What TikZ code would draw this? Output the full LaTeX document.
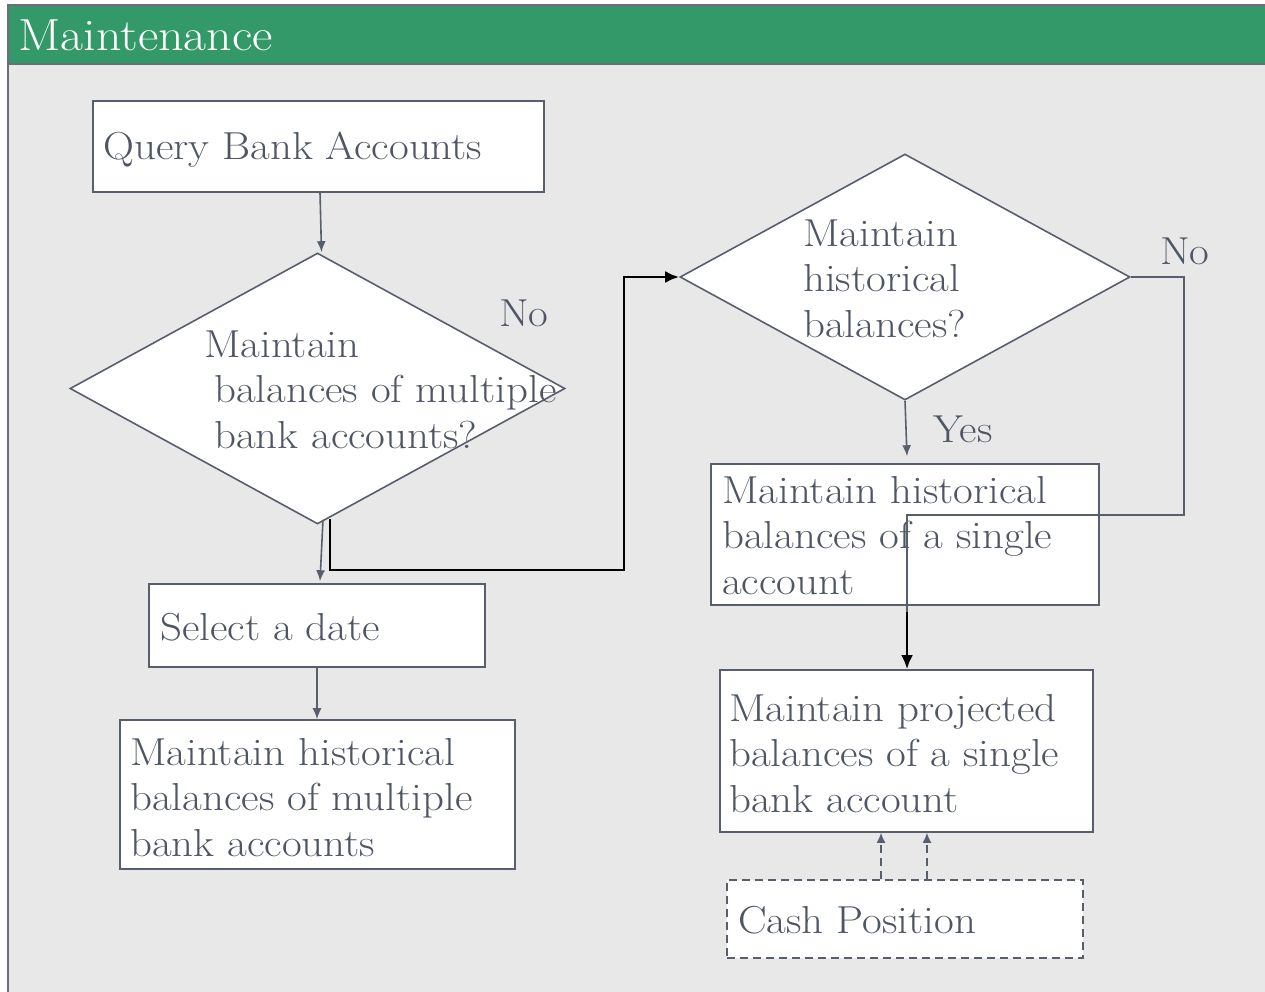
\documentclass[tikz,border=0pt]{standalone}
\usetikzlibrary{arrows.meta,shapes.geometric}
\definecolor{linec}{RGB}{88,95,108}
\definecolor{textc}{RGB}{78,86,100}
\definecolor{panelc}{RGB}{232,232,232}
\definecolor{headc}{RGB}{51,153,104}
\definecolor{bordc}{RGB}{105,110,120}
\begin{document}
\begin{tikzpicture}[x=1pt,y=-1pt,
  box/.style={draw=linec, fill=white, line width=1.6pt, inner sep=0pt, rectangle},
  dia/.style={draw=linec, fill=white, line width=1.6pt, inner sep=0pt, diamond},
  txt/.style={anchor=base west, inner sep=0pt, align=left, text=textc, xscale=1.1, transform shape, font=\fontsize{39}{45.5}\selectfont},
  garrow/.style={draw=linec, line width=1.6pt, -{Latex[length=11pt,width=9pt]}},
  gline/.style={draw=linec, line width=1.6pt},
  barrow/.style={draw=black, line width=2.8pt, -{Latex[length=14pt,width=12pt]}},
  darrow/.style={draw=linec, line width=1.6pt, dash pattern=on 8pt off 5pt, -{Latex[length=10pt,width=9pt]}}]
\useasboundingbox (0,0) rectangle (1265,992);
\clip (0,0) rectangle (1265,992);
% panel
\fill[white] (0,0) rectangle (1265,992);
\fill[panelc] (8,5) rectangle (1280,1000);
\fill[headc] (8,5) rectangle (1280,64);
\draw[bordc, line width=2pt] (1280,5) -- (8,5) -- (8,1000);
\draw[bordc, line width=2pt] (8,64) -- (1280,64);
\node[anchor=base west, inner sep=0pt, text=white, xscale=1.11, transform shape, font=\fontsize{45}{52}\selectfont] (title) at (18,51) {Maintenance};
% shapes
\node[box, minimum width=451pt, minimum height=91pt] (q) at (318.5,146.5) {};
\node[dia, minimum width=495pt, minimum height=271pt] (d1) at (317.5,388.5) {};
\node[box, minimum width=336pt, minimum height=83pt] (sel) at (317,625.5) {};
\node[box, minimum width=395pt, minimum height=149pt] (mhm) at (317.5,794.5) {};
\node[dia, minimum width=450pt, minimum height=246pt] (d2) at (905,277) {};
\node[box, minimum width=388pt, minimum height=141pt] (ms) at (905,534.5) {};
\node[box, minimum width=373pt, minimum height=162pt] (mp) at (906.5,751) {};
\node[box, dash pattern=on 8pt off 5pt, minimum width=356pt, minimum height=78pt] (cp) at (905,919) {};
% texts (anchor at baseline of the last line)
\node[txt] (qt) at (103,160) {Query Bank Accounts};
\node[txt] (d1t) at (204,448) {Maintain\\\hspace*{9pt}balances of multiple\\\hspace*{9pt}bank accounts?};
\node[txt] (selt) at (160,640) {Select a date};
\node[txt] (mhmt) at (130,856) {Maintain historical\\balances of multiple\\bank accounts};
\node[txt] (d2t) at (803,337) {Maintain\\historical\\balances?};
\node[txt] (mst) at (722,594) {Maintain historical\\balances of a single\\account};
\node[txt] (mpt) at (729,812) {Maintain projected\\balances of a single\\bank account};
\node[txt] (cpt) at (738,933) {Cash Position};
\node[txt] (no1) at (499,326) {No};
\node[txt] (no2) at (1160,264) {No};
\node[txt] (yes) at (933,442) {Yes};
% connectors
\draw[garrow] ([xshift=1.5pt]q.south) -- ([xshift=4pt]d1.north);
\draw[garrow] ([xshift=5.5pt,yshift=5pt]d1.south) -- ([xshift=3pt,yshift=2pt]sel.north);
\draw[garrow] (sel.south) -- (sel.south |- mhm.north);
\draw[barrow] ([xshift=12.5pt,yshift=6pt]d1.south) |- (624,570) |- (d2.west);
\draw[garrow] (d2.south) -- ([xshift=2pt,yshift=7pt]ms.north);
\coordinate (j) at (907,612);
\draw[gline] (d2.east) -| (1184,515) -| (j);
\draw[barrow] (j) -- (j |- mp.north);
\draw[darrow] ([xshift=-24pt]cp.north) -- ([xshift=-24pt]cp.north |- mp.south);
\draw[darrow] ([xshift=22pt]cp.north) -- ([xshift=22pt]cp.north |- mp.south);
\end{tikzpicture}
\end{document}
